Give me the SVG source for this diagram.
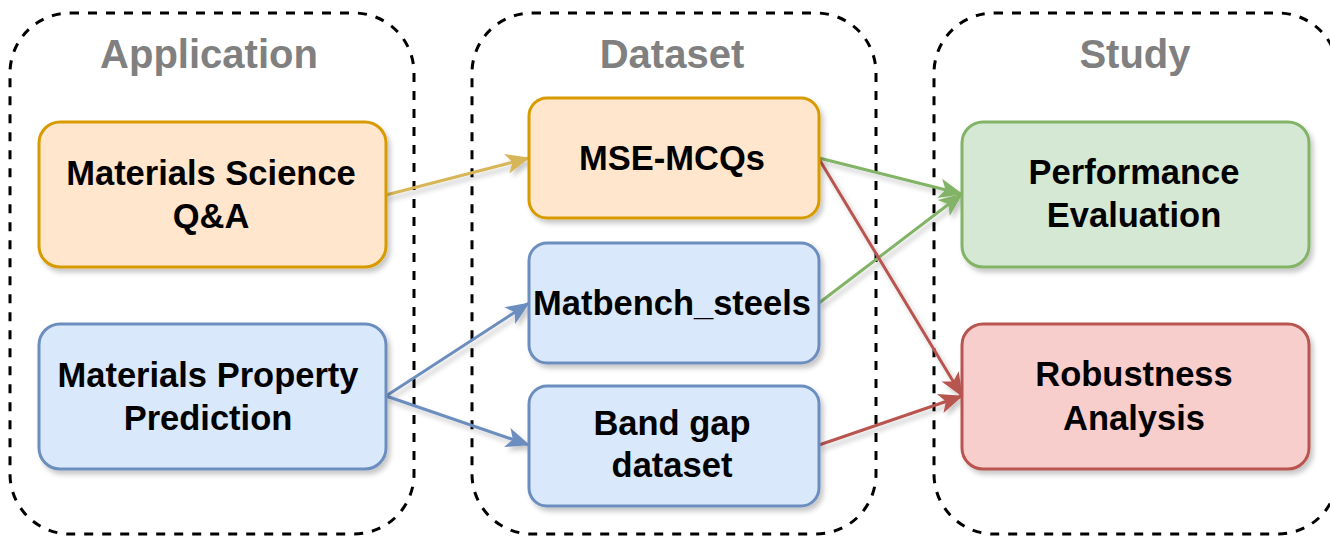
<svg xmlns="http://www.w3.org/2000/svg" width="1330" height="537" viewBox="0 0 1330 537">
<style>
.container{fill:none;stroke:#000;stroke-width:3;stroke-dasharray:9 9}
.title{font-family:"Liberation Sans",Arial,Helvetica,sans-serif;font-weight:bold;font-size:40px;fill:#808080;text-anchor:middle}
.label{font-family:"Liberation Sans",Arial,Helvetica,sans-serif;font-weight:bold;font-size:34.5px;fill:#000;text-anchor:middle}
.node{stroke-width:3;filter:url(#shadow)}
.orange{fill:#ffe6cc;stroke:#d79b00}
.blue{fill:#dae8fc;stroke:#6c8ebf}
.green{fill:#d5e8d4;stroke:#82b366}
.red{fill:#f8cecc;stroke:#b85450}
.edge{fill:none;stroke-width:3}
</style>
<defs>
<filter id="shadow" x="-10%" y="-10%" width="130%" height="140%">
<feDropShadow dx="3" dy="4" stdDeviation="2.5" flood-color="#000" flood-opacity="0.22"/>
</filter>
<marker id="aGold" markerUnits="userSpaceOnUse" viewBox="0 0 24 22" markerWidth="24" markerHeight="22" refX="23" refY="11" orient="auto"><path d="M0,1 L24,11 L0,21 L6,11 Z" fill="#d6b656"/></marker>
<marker id="aBlue" markerUnits="userSpaceOnUse" viewBox="0 0 24 22" markerWidth="24" markerHeight="22" refX="23" refY="11" orient="auto"><path d="M0,1 L24,11 L0,21 L6,11 Z" fill="#6c8ebf"/></marker>
<marker id="aGreen" markerUnits="userSpaceOnUse" viewBox="0 0 24 22" markerWidth="24" markerHeight="22" refX="23" refY="11" orient="auto"><path d="M0,1 L24,11 L0,21 L6,11 Z" fill="#82b366"/></marker>
<marker id="aRed" markerUnits="userSpaceOnUse" viewBox="0 0 24 22" markerWidth="24" markerHeight="22" refX="23" refY="11" orient="auto"><path d="M0,1 L24,11 L0,21 L6,11 Z" fill="#b85450"/></marker>
</defs>

<g id="container-application">
<rect class="container" x="10" y="13" width="404" height="521" rx="60"/>
<text class="title" x="209" y="68">Application</text>
</g>
<g id="container-dataset">
<rect class="container" x="472" y="13" width="404" height="521" rx="60"/>
<text class="title" x="672" y="68">Dataset</text>
</g>
<g id="container-study">
<rect class="container" x="934" y="13" width="404" height="521" rx="60"/>
<text class="title" x="1135" y="68">Study</text>
</g>

<g id="connectors" filter="url(#shadow)">
<line class="edge" stroke="#d6b656" x1="386" y1="195" x2="529" y2="158" marker-end="url(#aGold)"/>
<line class="edge" stroke="#6c8ebf" x1="386" y1="396" x2="529" y2="303" marker-end="url(#aBlue)"/>
<line class="edge" stroke="#6c8ebf" x1="386" y1="396" x2="529" y2="445" marker-end="url(#aBlue)"/>
<line class="edge" stroke="#82b366" x1="819" y1="158" x2="962" y2="194" marker-end="url(#aGreen)"/>
<line class="edge" stroke="#82b366" x1="819" y1="303" x2="962" y2="194" marker-end="url(#aGreen)"/>
<line class="edge" stroke="#b85450" x1="819" y1="159" x2="962" y2="396" marker-end="url(#aRed)"/>
<line class="edge" stroke="#b85450" x1="819" y1="445" x2="962" y2="396" marker-end="url(#aRed)"/>
</g>

<g id="node-msqa">
<rect class="node orange" x="39" y="122" width="347" height="145" rx="21"/>
<text class="label" x="211" y="185">Materials Science</text>
<text class="label" x="211" y="228">Q&amp;A</text>
</g>
<g id="node-mpp">
<rect class="node blue" x="39" y="324" width="347" height="145" rx="21"/>
<text class="label" x="208" y="387">Materials Property</text>
<text class="label" x="208" y="430">Prediction</text>
</g>
<g id="node-msemcqs">
<rect class="node orange" x="529" y="98" width="290" height="120" rx="18"/>
<text class="label" x="672" y="170">MSE-MCQs</text>
</g>
<g id="node-matbench">
<rect class="node blue" x="529" y="243" width="290" height="120" rx="18"/>
<text class="label" x="672" y="315">Matbench_steels</text>
</g>
<g id="node-bandgap">
<rect class="node blue" x="529" y="386" width="290" height="120" rx="18"/>
<text class="label" x="672" y="435">Band gap</text>
<text class="label" x="672" y="477">dataset</text>
</g>
<g id="node-performance">
<rect class="node green" x="962" y="122" width="347" height="145" rx="21"/>
<text class="label" x="1134" y="184">Performance</text>
<text class="label" x="1134" y="227">Evaluation</text>
</g>
<g id="node-robustness">
<rect class="node red" x="962" y="324" width="347" height="145" rx="21"/>
<text class="label" x="1134" y="386">Robustness</text>
<text class="label" x="1134" y="430">Analysis</text>
</g>
</svg>
